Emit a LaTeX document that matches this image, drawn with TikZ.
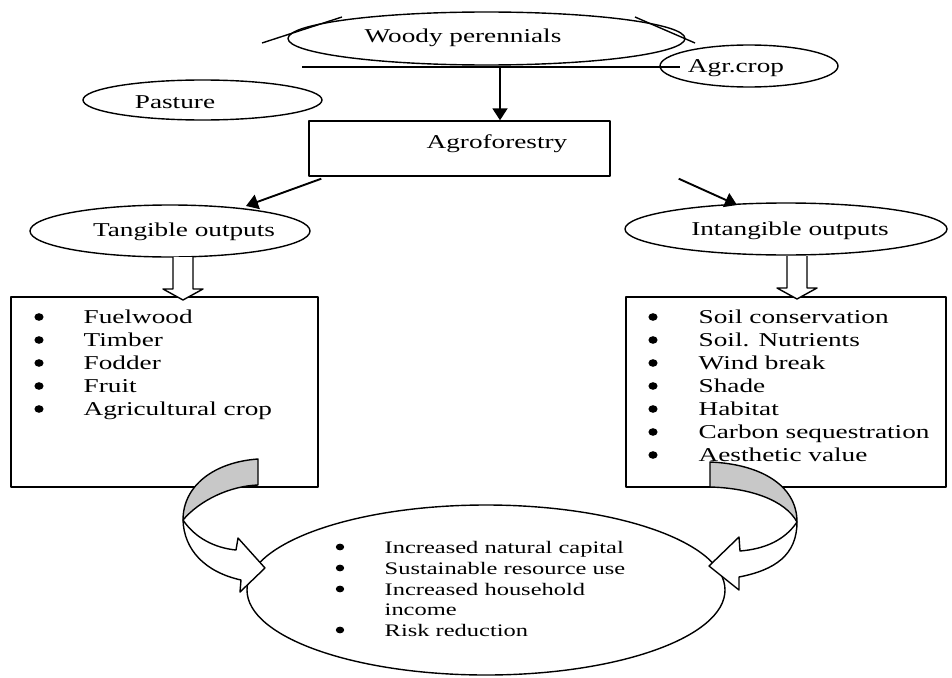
\documentclass[tikz,border=0pt]{standalone}
\usepackage{fontspec}
\setmainfont{Liberation Serif}[FakeStretch=1.39]
\usetikzlibrary{shapes.geometric,arrows.meta,calc}
\definecolor{ribbongray}{RGB}{200,200,200}
\begin{document}
\begin{tikzpicture}[x=1pt,y=-1pt,line join=round,line width=1.4pt,
  oval/.style={draw,ellipse,inner sep=0pt},
  box/.style={draw,rectangle,inner sep=0pt},
  lbl/.style={inner sep=0pt,anchor=base,font=\fontsize{19.6}{23}\selectfont},
  item/.style={inner sep=0pt,anchor=base west,font=\fontsize{19.6}{23}\selectfont},
  sitem/.style={inner sep=0pt,anchor=base west,font=\fontsize{17.6}{21}\selectfont},
  flow/.style={line width=1.9pt,-{Triangle[length=12pt,width=15pt]}},
  hollow/.style={draw,fill=white},
  ribbonback/.style={draw,fill=ribbongray},
  ribbonfront/.style={draw,fill=white}]
\useasboundingbox (0,0) rectangle (952,677);
% top
\node[oval,minimum width=397pt,minimum height=53pt] (woody) at (486.5,38.5) {};
\node[lbl] (woodyt) at (463,43) {Woody perennials};
\draw (262,43) -- (342,17);
\draw (635,17) -- (695,43);
\coordinate (barL) at (302,67);
\coordinate (barR) at (680,67);
\coordinate (bar) at (500,67);
\draw (barL) -- (barR);
\node[oval,minimum width=178pt,minimum height=42pt] (agr) at (749,66) {};
\node[lbl] (agrt) at (736,72) {Agr.crop};
\node[oval,minimum width=239pt,minimum height=40pt] (past) at (202.5,100) {};
\node[lbl] (pastt) at (175,108) {Pasture};
% agroforestry
\node[box,minimum width=301pt,minimum height=55pt] (agro) at (459.5,148.5) {};
\node[lbl] (agrot) at (497,148) {Agroforestry};
\draw[flow] (bar) -- (agro.north -| bar);
% outputs
\node[oval,minimum width=280pt,minimum height=52pt] (tang) at (170,231) {};
\node[lbl] (tangt) at (184,236) {Tangible outputs};
\node[oval,minimum width=322pt,minimum height=52pt] (intang) at (786,229) {};
\node[lbl] (intangt) at (790,235) {Intangible outputs};
\coordinate (tangin) at (246,206);
\coordinate (intangin) at (737,205);
\draw[flow] ($(agro.south west)+(13,2)$) -- (tangin);
\draw[flow] ($(agro.south east)+(68,2)$) -- (intangin);
% boxes
\node[box,minimum width=307pt,minimum height=190pt] (lbox) at (164.5,392) {};
\node[box,minimum width=320pt,minimum height=190pt] (rbox) at (786,392) {};
% hollow arrows
\draw[hollow] (173,257) -- (173,289) -- (163,289) -- (183,300) -- (203,289) -- (193,289) -- (193,257);
\draw[hollow] (787,256) -- (787,288) -- (777,288) -- (797,299) -- (817,288) -- (807,288) -- (807,256);
% left list
\foreach \t [count=\i from 0] in {Fuelwood,Timber,Fodder,Fruit,Agricultural crop}{
  \fill (39,317+23*\i) ellipse (4.6pt and 3.8pt);
  \node[item] (l\i) at (83,323+23*\i) {\t};
}
% right list
\foreach \t [count=\i from 0] in {Soil conservation,Soil. Nutrients,Wind break,Shade,Habitat,Carbon sequestration,Aesthetic value}{
  \fill (653,317+23*\i) ellipse (4.6pt and 3.8pt);
  \node[item] (r\i) at (698,323+23*\i) {\t};
}
% bottom ellipse
\node[oval,minimum width=478pt,minimum height=170pt] (res) at (486,590) {};
\fill (340,547) ellipse (4.2pt and 3.4pt);
\node[sitem] (b0) at (384,553) {Increased natural capital};
\fill (340,568) ellipse (4.2pt and 3.4pt);
\node[sitem] (b1) at (384,574) {Sustainable resource use};
\fill (340,589) ellipse (4.2pt and 3.4pt);
\node[sitem] (b2) at (384,595) {Increased household};
\node[sitem] (b3) at (384,615) {income};
\fill (340,630) ellipse (4.2pt and 3.4pt);
\node[sitem] (b4) at (384,636) {Risk reduction};
% curved arrows
\path[ribbonback] (258,459) .. controls (215,462) and (183,485) .. (183,520)
  .. controls (200,500) and (230,486) .. (258,485) -- cycle;
\path[ribbonfront] (183,520) .. controls (195,538) and (215,548) .. (236,550)
  -- (238,538) -- (265,568) -- (240,592) -- (241,580)
  .. controls (205,572) and (184,550) .. (183,520) -- cycle;
\path[ribbonback] (710,462) .. controls (760,464) and (797,485) .. (797,522)
  .. controls (785,500) and (750,488) .. (710,487) -- cycle;
\path[ribbonfront] (797,522) .. controls (785,540) and (765,549) .. (740,551)
  -- (739,537) -- (709,566) -- (739,590) -- (739,577)
  .. controls (775,570) and (797,555) .. (797,522) -- cycle;
\end{tikzpicture}
\end{document}
